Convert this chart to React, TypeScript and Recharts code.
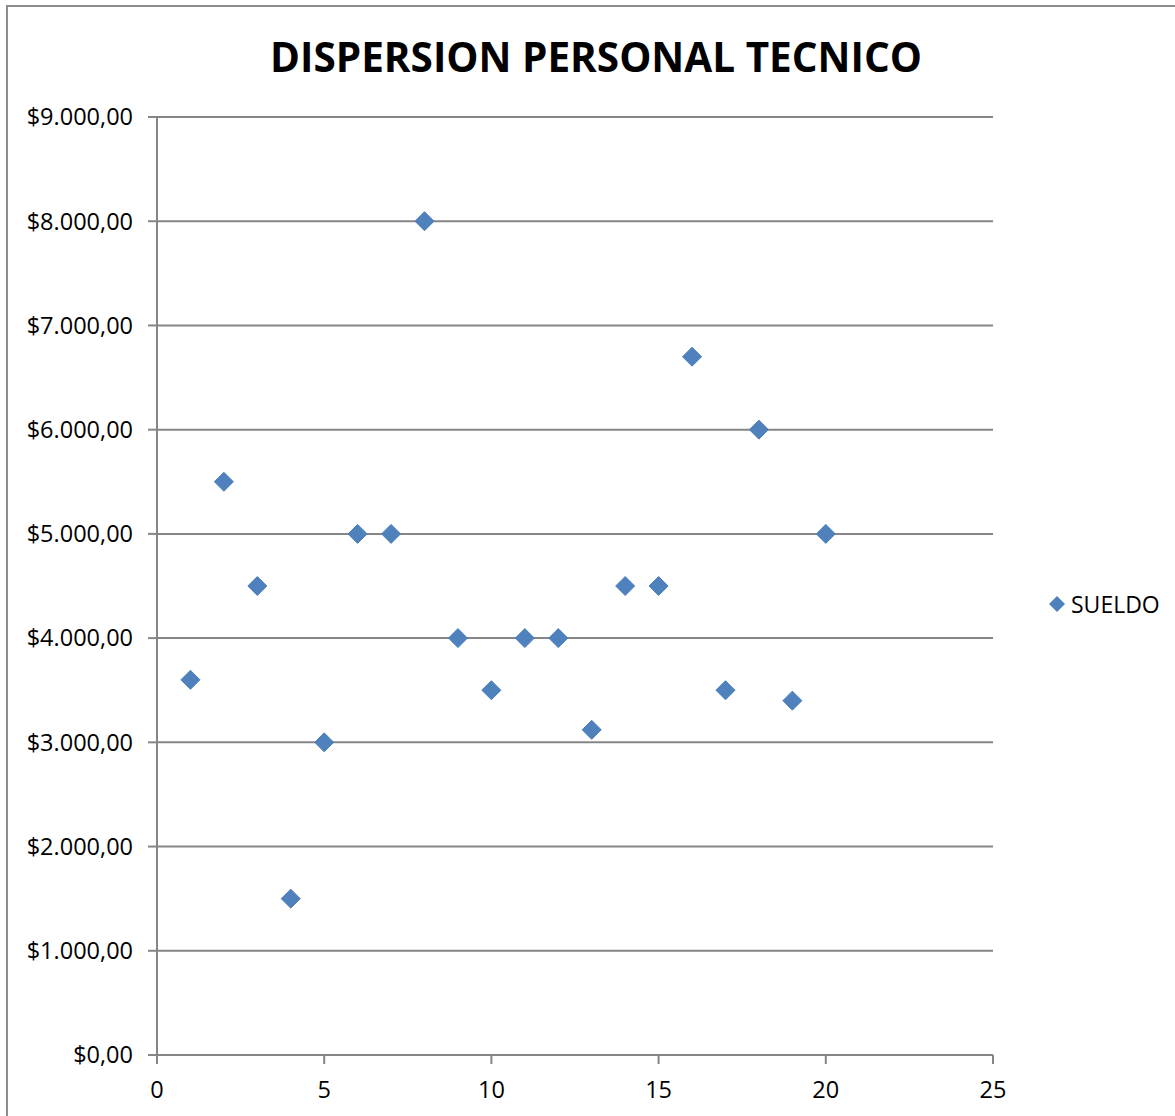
import React from "react";
import {
  ScatterChart,
  Scatter,
  XAxis,
  YAxis,
  CartesianGrid,
} from "recharts";

const employees = [1, 2, 3, 4, 5, 6, 7, 8, 9, 10, 11, 12, 13, 14, 15, 16, 17, 18, 19, 20];
const sueldo = [
  3600, 5500, 4500, 1500, 3000, 5000, 5000, 8000, 4000, 3500,
  4000, 4000, 3120, 4500, 4500, 6700, 3500, 6000, 3400, 5000,
];
const xTicks = [0, 5, 10, 15, 20, 25];
const yTicks = [0, 1000, 2000, 3000, 4000, 5000, 6000, 7000, 8000, 9000];

const FONT = "'Open Sans', 'Noto Sans', sans-serif";
const GRID = "#868686";
const BLUE = "#4F81BD";

const formatMoney = (v: number) => {
  const whole = Math.floor(v)
    .toString()
    .replace(/\B(?=(\d{3})+(?!\d))/g, ".");
  return `$${whole},00`;
};

const Diamond = ({ cx, cy }: any) => {
  const r = 9.5;
  return (
    <polygon
      points={`${cx},${cy - r} ${cx + r},${cy} ${cx},${cy + r} ${cx - r},${cy}`}
      fill={BLUE}
      stroke="#4A7EBB"
      strokeWidth={1}
    />
  );
};

const App = () => {
  const data = employees.map((n, i) => ({ n, sueldo: sueldo[i] }));
  const tick = { fill: "#000", fontSize: 23.5, fontFamily: FONT };

  return (
    <div
      style={{
        position: "absolute",
        left: 0,
        top: 0,
        width: 1175,
        height: 1116,
        background: "#fff",
        overflow: "hidden",
        fontFamily: FONT,
      }}
    >
      <div
        style={{
          position: "absolute",
          left: 6,
          top: 5,
          width: 1300,
          height: 1300,
          border: "2px solid #8c8c8c",
        }}
      />
      <div
        style={{
          position: "absolute",
          left: 0,
          top: 30,
          width: 1192,
          textAlign: "center",
          fontSize: 40.5,
          fontWeight: 700,
          lineHeight: "54px",
          color: "#000",
        }}
      >
        DISPERSION PERSONAL TECNICO
      </div>

      <div style={{ position: "absolute", left: 0, top: 0 }}>
        <ScatterChart
          width={1175}
          height={1116}
          margin={{ top: 117, right: 182, bottom: 0, left: 0 }}
        >
          <CartesianGrid
            vertical={false}
            stroke={GRID}
            strokeWidth={2}
          />
          <XAxis
            type="number"
            dataKey="n"
            domain={[0, 25]}
            ticks={xTicks}
            height={61}
            axisLine={{ stroke: GRID, strokeWidth: 2 }}
            tickLine={{ stroke: GRID, strokeWidth: 2 }}
            tickSize={9}
            tickMargin={17}
            tick={tick}
            interval={0}
          />
          <YAxis
            type="number"
            dataKey="sueldo"
            domain={[0, 9000]}
            ticks={yTicks}
            width={157}
            axisLine={{ stroke: GRID, strokeWidth: 2 }}
            tickLine={{ stroke: GRID, strokeWidth: 2 }}
            tickSize={9}
            tickMargin={15}
            tick={tick}
            tickFormatter={formatMoney}
            interval={0}
          />
          <Scatter
            name="SUELDO"
            data={data}
            shape={<Diamond />}
            isAnimationActive={false}
          />
        </ScatterChart>
      </div>

      <div
        style={{
          position: "absolute",
          left: 1048,
          top: 588,
          display: "flex",
          alignItems: "center",
          fontSize: 23,
          color: "#000",
        }}
      >
        <svg width={18} height={18} style={{ marginRight: 5 }}>
          <polygon points="9,1 17,9 9,17 1,9" fill={BLUE} />
        </svg>
        SUELDO
      </div>
    </div>
  );
};

export default App;
